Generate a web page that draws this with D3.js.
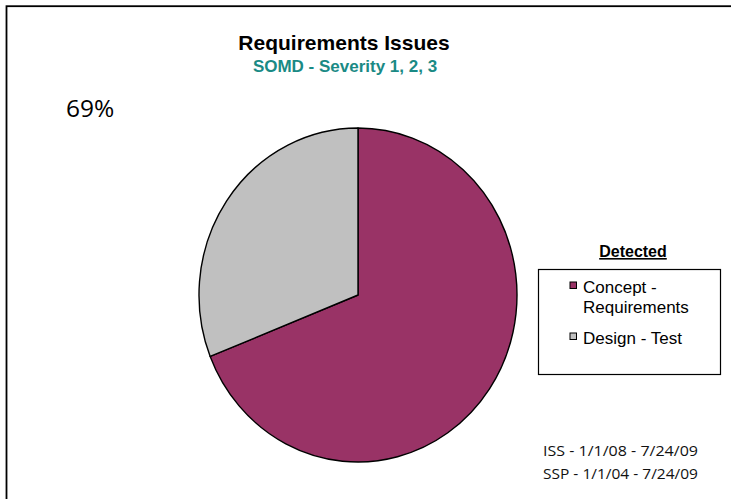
<!DOCTYPE html>
<html>
<head>
<meta charset="utf-8">
<script src="https://cdn.jsdelivr.net/npm/d3@7"></script>
<style>
  html, body { margin: 0; padding: 0; background: #fff; }
  svg { display: block; }
</style>
</head>
<body>
<svg id="chart" width="731" height="499"></svg>
<script>
// Data
const categories = ["Concept -\nRequirements", "Design - Test"];
const values = [69, 31];
const colors = ["#993366", "#C0C0C0"];
const titleText = "Requirements Issues";
const subtitleText = "SOMD - Severity 1, 2, 3";
const legendTitle = "Detected";
const shownPercent = "69%";
const footnotes = ["ISS - 1/1/08 - 7/24/09", "SSP - 1/1/04 - 7/24/09"];

const svg = d3.select("#chart");
const sans = "'Liberation Sans', Arial, sans-serif";

// Outer frame (runs off the right and bottom edges)
svg.append("rect")
  .attr("x", 6.5).attr("y", 6.2)
  .attr("width", 740).attr("height", 510)
  .attr("fill", "#fff")
  .attr("stroke", "#000").attr("stroke-width", 1.8);

// Titles
svg.append("text")
  .attr("x", 344).attr("y", 50)
  .attr("text-anchor", "middle")
  .attr("font-family", sans)
  .attr("font-weight", "bold").attr("font-size", 21)
  .attr("fill", "#000")
  .text(titleText);

svg.append("text")
  .attr("x", 345).attr("y", 71.5)
  .attr("text-anchor", "middle")
  .attr("font-family", sans)
  .attr("font-weight", "bold").attr("font-size", 17)
  .attr("fill", "#1A8A85")
  .text(subtitleText);

// Percentage note
svg.append("text")
  .attr("x", 66).attr("y", 117)
  .attr("font-family", "'Open Sans', sans-serif")
  .attr("font-size", 24.5)
  .attr("fill", "#000")
  .text(shownPercent);

// Pie
const rx = 159, ry = 167;
const pie = d3.pie().sort(null).startAngle(0).endAngle(2 * Math.PI);
const arc = d3.arc().innerRadius(0).outerRadius(rx);
const g = svg.append("g")
  .attr("transform", `translate(358,295) scale(1,${ry / rx})`);
g.selectAll("path")
  .data(pie(values))
  .join("path")
  .attr("d", arc)
  .attr("fill", (d, i) => colors[i])
  .attr("stroke", "#000")
  .attr("stroke-width", 1.4)
  .attr("stroke-linejoin", "round")
  .attr("vector-effect", "non-scaling-stroke");

// Legend
svg.append("text")
  .attr("x", 633).attr("y", 257)
  .attr("text-anchor", "middle")
  .attr("font-family", sans)
  .attr("font-weight", "bold").attr("font-size", 16)
  .attr("text-decoration", "underline")
  .attr("fill", "#000")
  .text(legendTitle);

svg.append("rect")
  .attr("x", 538.5).attr("y", 269.5)
  .attr("width", 182).attr("height", 105)
  .attr("fill", "#fff")
  .attr("stroke", "#000").attr("stroke-width", 1.2);

const legendRows = [293, 344];
categories.forEach((c, i) => {
  const y = legendRows[i];
  svg.append("rect")
    .attr("x", 570).attr("y", y - 11)
    .attr("width", 6.5).attr("height", 6.5)
    .attr("fill", colors[i])
    .attr("stroke", "#000").attr("stroke-width", 1);
  const t = svg.append("text")
    .attr("x", 583).attr("y", y)
    .attr("font-family", sans)
    .attr("font-size", 17)
    .attr("fill", "#000");
  c.split("\n").forEach((line, j) => {
    t.append("tspan").attr("x", 583).attr("dy", j === 0 ? 0 : 20).text(line);
  });
});

// Footnotes
footnotes.forEach((f, i) => {
  svg.append("text")
    .attr("x", 543).attr("y", 456 + i * 23)
    .attr("font-family", "'Open Sans', sans-serif")
    .attr("font-size", 14.5)
    .attr("textLength", 155)
    .attr("lengthAdjust", "spacingAndGlyphs")
    .attr("fill", "#111")
    .text(f);
});
</script>
</body>
</html>
